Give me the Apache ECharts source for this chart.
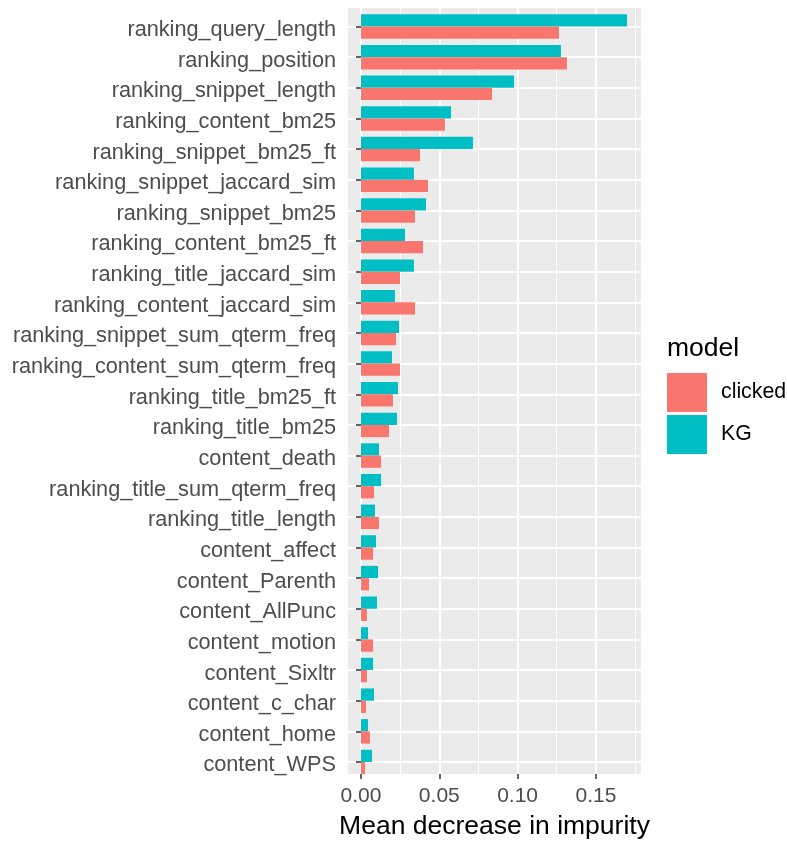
<!DOCTYPE html>
<html>
<head>
<meta charset="utf-8">
<script src="https://cdn.jsdelivr.net/npm/echarts@6/dist/echarts.min.js"></script>
<style>
  html, body { margin: 0; padding: 0; background: #fff; }
  #chart { width: 787px; height: 845px; }
</style>
</head>
<body>
<div id="chart"></div>
<script>
// features, top to bottom
const features = [
    'ranking_query_length', 'ranking_position', 'ranking_snippet_length',
    'ranking_content_bm25', 'ranking_snippet_bm25_ft', 'ranking_snippet_jaccard_sim',
    'ranking_snippet_bm25', 'ranking_content_bm25_ft', 'ranking_title_jaccard_sim',
    'ranking_content_jaccard_sim', 'ranking_snippet_sum_qterm_freq',
    'ranking_content_sum_qterm_freq', 'ranking_title_bm25_ft', 'ranking_title_bm25',
    'content_death', 'ranking_title_sum_qterm_freq', 'ranking_title_length',
    'content_affect', 'content_Parenth', 'content_AllPunc', 'content_motion',
    'content_Sixltr', 'content_c_char', 'content_home', 'content_WPS'
];
const kgValues = [
    0.1699, 0.1277, 0.0977, 0.0575, 0.0715, 0.0338, 0.0415, 0.0281, 0.0338,
    0.0217, 0.0243, 0.0198, 0.0236, 0.0230, 0.0115, 0.0128, 0.0089, 0.0096,
    0.0109, 0.0102, 0.0045, 0.0077, 0.0083, 0.0045, 0.0070
];
const clickedValues = [
    0.1264, 0.1315, 0.0837, 0.0536, 0.0377, 0.0428, 0.0345, 0.0396, 0.0249,
    0.0345, 0.0224, 0.0249, 0.0204, 0.0179, 0.0128, 0.0083, 0.0115, 0.0077,
    0.0051, 0.0038, 0.0077, 0.0038, 0.0032, 0.0057, 0.0026
];
const majorTicks = [0, 0.05, 0.10, 0.15];
const minorTicks = [0.025, 0.075, 0.125, 0.175];
const xMin = -0.0083, xMax = 0.1788;

const FONT = '"Liberation Sans", Arial, sans-serif';
const chart = echarts.init(document.getElementById('chart'));

let option = {
    animation: false,
    textStyle: { fontFamily: FONT },
    title: {
        text: 'model',
        left: 662,
        top: 330,
        textStyle: { fontSize: 26.5, fontWeight: 'normal', color: '#000', fontFamily: FONT }
    },
    legend: {
        data: ['clicked', 'KG'],
        orient: 'vertical',
        left: 662,
        top: 368,
        icon: 'rect',
        itemWidth: 40,
        itemHeight: 39,
        itemGap: 3,
        textStyle: { fontSize: 21.3, color: '#000', padding: [0, 0, 0, 9], fontFamily: FONT }
    },
    grid: [
        // panel background + vertical gridlines + x axis
        { left: 348, width: 293, top: 8, height: 772, show: true, backgroundColor: '#EBEBEB', borderWidth: 0 },
        // bars, spanning first to last category centre
        { left: 348, width: 293, top: 26.5, height: 735.5 }
    ],
    xAxis: [
        {
            gridIndex: 0, type: 'value', min: xMin, max: xMax,
            axisLine: { show: false },
            axisTick: { show: true, customValues: majorTicks, length: 5, lineStyle: { color: '#333', width: 1.5 } },
            axisLabel: {
                customValues: majorTicks, fontSize: 21, color: '#4D4D4D', margin: 12,
                formatter: v => v.toFixed(2)
            },
            splitLine: { show: true, lineStyle: { color: '#fff', width: 2 } },
            name: 'Mean decrease in impurity',
            nameLocation: 'middle',
            nameGap: 39,
            nameTextStyle: { fontSize: 26.5, color: '#000', fontFamily: FONT }
        },
        {
            gridIndex: 0, type: 'value', min: xMin, max: xMax,
            axisLine: { show: false },
            axisTick: { show: false, customValues: minorTicks },
            axisLabel: { show: false, customValues: minorTicks },
            splitLine: { show: true, lineStyle: { color: '#fff', width: 1 } }
        },
        {
            gridIndex: 1, type: 'value', min: xMin, max: xMax, show: false,
            splitLine: { show: false }
        }
    ],
    yAxis: [
        { gridIndex: 0, type: 'value', min: 0, max: 1, show: false, splitLine: { show: false } },
        {
            gridIndex: 1, type: 'category', data: features, inverse: true, boundaryGap: false,
            axisLine: { show: false },
            axisTick: { show: true, length: 5, lineStyle: { color: '#333', width: 1.5 } },
            axisLabel: {
                margin: 12, interval: 0,
                formatter: v => '{t|' + v + '}',
                rich: { t: { fontSize: 21.7, color: '#4D4D4D', fontFamily: FONT, padding: [7, 0, 0, 0] } }
            },
            splitLine: { show: true, lineStyle: { color: '#fff', width: 2 } }
        }
    ],
    series: [
        {
            name: 'KG', type: 'bar', xAxisIndex: 2, yAxisIndex: 1,
            data: kgValues, barWidth: 12.25, barGap: '0%',
            itemStyle: { color: '#00BFC4' }
        },
        {
            name: 'clicked', type: 'bar', xAxisIndex: 2, yAxisIndex: 1,
            data: clickedValues, barWidth: 12.25, barGap: '0%',
            itemStyle: { color: '#F8766D' }
        }
    ]
};
chart.setOption(option);
</script>
</body>
</html>
